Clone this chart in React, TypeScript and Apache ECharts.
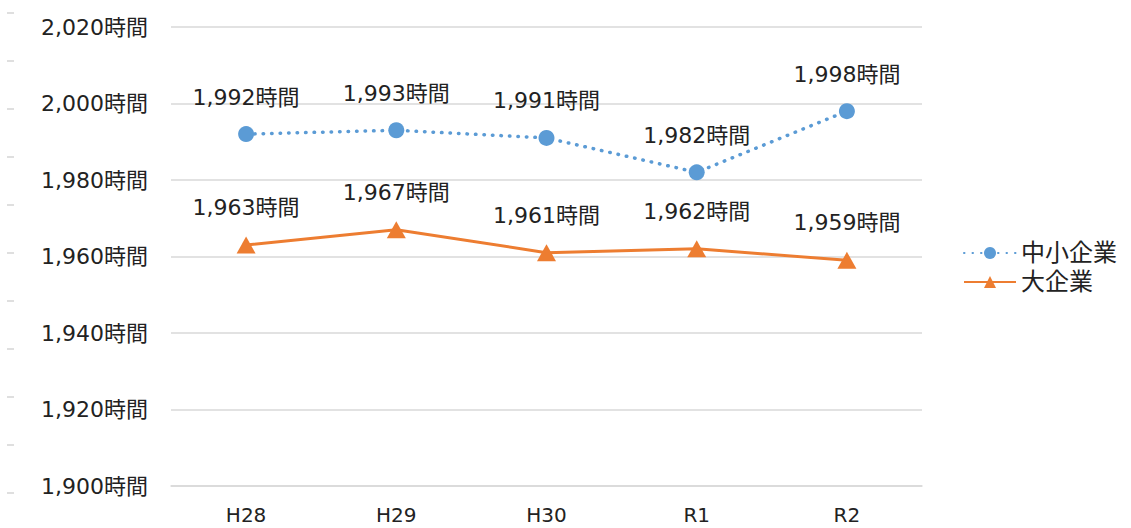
import React, { useEffect, useRef } from "react";
import * as echarts from "echarts";

// Annual working hours by company size
const categories = ["H28", "H29", "H30", "R1", "R2"];
const smeHours = [1992, 1993, 1991, 1982, 1998];
const largeHours = [1963, 1967, 1961, 1962, 1959];
const seriesNames = ["中小企業", "大企業"];

const yMin = 1900;
const yMax = 2020;
const yStep = 20;

const FONT = "'DejaVu Sans', 'Noto Sans CJK JP', sans-serif";
const BLUE = "#5B9BD5";
const ORANGE = "#ED7D31";

const fmtHours = (v: number) => `${Number(v).toLocaleString("en-US")}時間`;

// small faint dashes along the left edge
const edgeMarkYs = [13, 61, 109, 157, 205, 253, 301, 349, 397, 445, 493];

export default function App() {
  const ref = useRef<HTMLDivElement>(null);

  useEffect(() => {
    if (!ref.current) return;
    const chart = echarts.init(ref.current, undefined, { renderer: "svg" });

    const labelStyle = {
      show: true,
      position: "top" as const,
      distance: 18,
      fontFamily: FONT,
      fontSize: 22,
      color: "#222",
      formatter: (p: any) => fmtHours(p.value),
    };

    chart.setOption({
      animation: false,
      backgroundColor: "#ffffff",
      grid: { left: 171, right: 209, top: 27, bottom: 42, containLabel: false },
      legend: {
        orient: "vertical",
        left: 958,
        top: 236,
        itemWidth: 52,
        itemHeight: 15,
        itemGap: 5,
        data: seriesNames,
        textStyle: { fontFamily: FONT, fontSize: 24, color: "#222" },
      },
      xAxis: {
        type: "category",
        data: categories,
        boundaryGap: true,
        axisLine: { show: true, lineStyle: { color: "#d9d9d9", width: 1.5 } },
        axisTick: { show: false },
        axisLabel: {
          margin: 19,
          fontFamily: FONT,
          fontSize: 20,
          color: "#222",
        },
      },
      yAxis: {
        type: "value",
        min: yMin,
        max: yMax,
        interval: yStep,
        axisLine: { show: false },
        axisTick: { show: false },
        splitLine: { show: true, lineStyle: { color: "#d9d9d9", width: 1.5 } },
        axisLabel: {
          margin: 23,
          fontFamily: FONT,
          fontSize: 22,
          color: "#222",
          formatter: (v: number) => fmtHours(v),
        },
      },
      graphic: edgeMarkYs.map((y) => ({
        type: "line",
        shape: { x1: 7, y1: y, x2: 14, y2: y },
        style: { stroke: "#d4d4d4", lineWidth: 1.5 },
        silent: true,
      })),
      series: [
        {
          name: seriesNames[0],
          type: "line",
          data: smeHours,
          symbol: "circle",
          symbolSize: 16,
          itemStyle: { color: BLUE },
          lineStyle: { color: BLUE, width: 3.5, type: [0.5, 8], cap: "round" },
          label: labelStyle,
          z: 3,
        },
        {
          name: seriesNames[1],
          type: "line",
          data: largeHours,
          symbol: "triangle",
          symbolSize: [19, 17],
          itemStyle: { color: ORANGE },
          lineStyle: { color: ORANGE, width: 3 },
          label: labelStyle,
          z: 2,
        },
      ],
    });

    return () => chart.dispose();
  }, []);

  return (
    <div
      ref={ref}
      style={{ position: "fixed", left: 0, top: 0, width: 1131, height: 528 }}
    />
  );
}
